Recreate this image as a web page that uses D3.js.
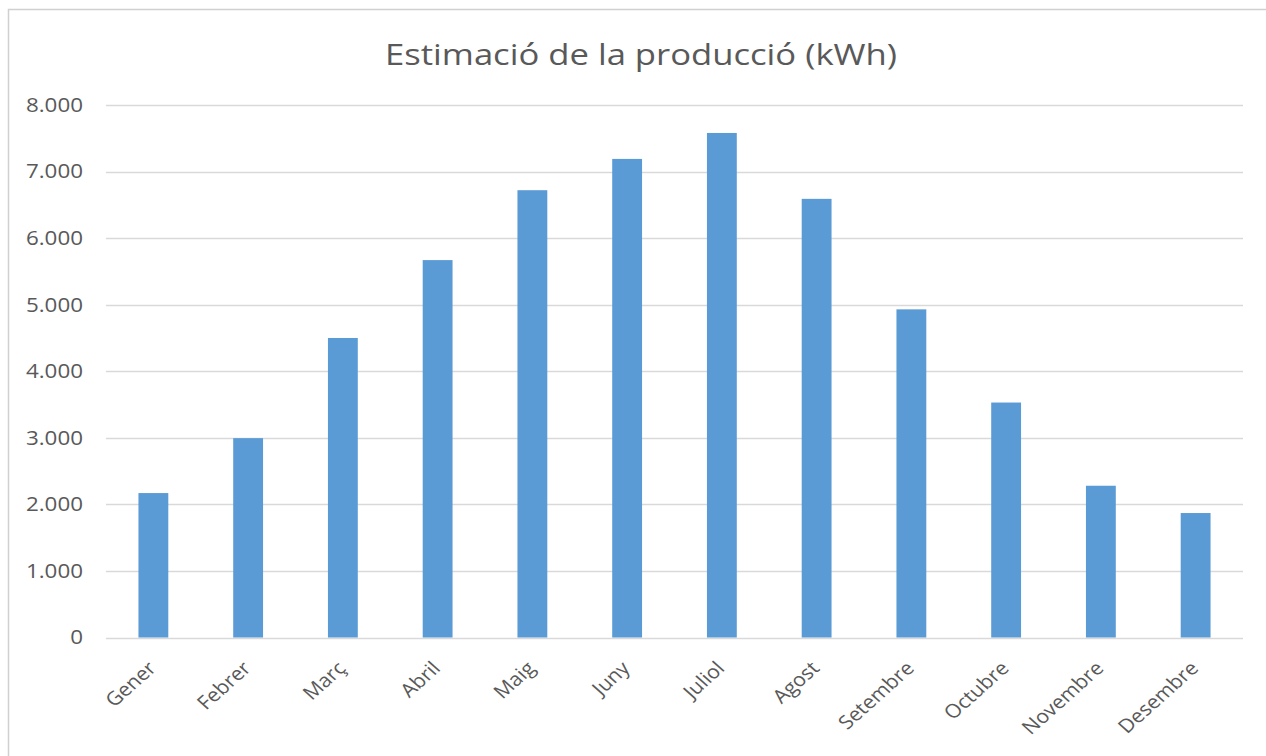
<!DOCTYPE html>
<html>
<head>
<meta charset="utf-8">
<script src="https://cdn.jsdelivr.net/npm/d3@7"></script>
<style>
  body { margin: 0; background: #fff; }
  text { font-family: "Open Sans", "DejaVu Sans", sans-serif; fill: #595959; }
</style>
</head>
<body>
<div id="chart"></div>
<script>
// monthly production estimate (kWh)
var months = ["Gener", "Febrer", "Març", "Abril", "Maig", "Juny", "Juliol", "Agost", "Setembre", "Octubre", "Novembre", "Desembre"];
var production = [2170, 2995, 4500, 5670, 6720, 7190, 7580, 6590, 4930, 3530, 2280, 1870];
var yTicks = [0, 1000, 2000, 3000, 4000, 5000, 6000, 7000, 8000];

var svgWidth = 1266;
var svgHeight = 756;
var margin = { top: 105, right: 23, bottom: 118.5, left: 106 };
var width = svgWidth - margin.left - margin.right;
var height = svgHeight - margin.top - margin.bottom;

// the source picture is a bit stretched sideways, so text gets widened too
var stretch = 1.12;

var svg = d3.select("#chart")
  .append("svg")
  .attr("width", svgWidth)
  .attr("height", svgHeight);

// chart frame (only top/left edges show in the picture)
svg.append("rect")
  .attr("x", 8.5)
  .attr("y", 9.5)
  .attr("width", svgWidth + 20)
  .attr("height", svgHeight + 20)
  .attr("fill", "none")
  .attr("stroke", "#d0d0d0")
  .attr("stroke-width", 1.5);

svg.append("text")
  .attr("x", 641)
  .attr("y", 65)
  .attr("text-anchor", "middle")
  .attr("textLength", 512)
  .attr("lengthAdjust", "spacingAndGlyphs")
  .style("font-size", "29px")
  .text("Estimació de la producció (kWh)");

var chart = svg.append("g")
  .attr("transform", "translate(" + margin.left + "," + margin.top + ")");

var x = d3.scaleBand()
  .domain(months)
  .range([0, width])
  .paddingInner(0.685)
  .paddingOuter(0.3425);

var y = d3.scaleLinear()
  .domain([0, 8000])
  .range([height, 0]);

var fmt = function(d) { return d3.format(",")(d).replace(/,/g, "."); };

// gridlines
chart.append("g")
  .selectAll("line")
  .data(yTicks)
  .enter().append("line")
  .attr("x1", 0)
  .attr("x2", width)
  .attr("y1", function(d) { return Math.round(y(d)) + 0.5; })
  .attr("y2", function(d) { return Math.round(y(d)) + 0.5; })
  .attr("stroke", "#d9d9d9")
  .attr("stroke-width", 1.5);

var leftAxis = d3.axisLeft(y).tickValues(yTicks).tickFormat(fmt).tickSize(0);
var yAxis = chart.append("g").call(leftAxis);
yAxis.select(".domain").remove();
yAxis.selectAll("text")
  .style("font-size", "20px")
  .attr("fill", "#595959")
  .attr("x", 0)
  .attr("transform", "translate(-23,0) scale(" + stretch + ",1)");

chart.selectAll("rect.bar")
  .data(production)
  .enter().append("rect")
  .attr("class", "bar")
  .attr("x", function(d, i) { return x(months[i]); })
  .attr("y", function(d) { return y(d); })
  .attr("width", x.bandwidth())
  .attr("height", function(d) { return height - y(d); })
  .attr("fill", "#5b9bd5");

var bottomAxis = d3.axisBottom(x).tickSize(0).tickPadding(0);
var xAxis = chart.append("g")
  .attr("transform", "translate(0," + height + ")")
  .call(bottomAxis);
xAxis.select(".domain").remove();
xAxis.selectAll("text")
  .style("font-size", "19px")
  .attr("fill", "#595959")
  .attr("text-anchor", "end")
  .attr("y", 0)
  .attr("dy", "0")
  .attr("transform", "translate(4,32) scale(" + stretch + ",1) rotate(-45)");
</script>
</body>
</html>
